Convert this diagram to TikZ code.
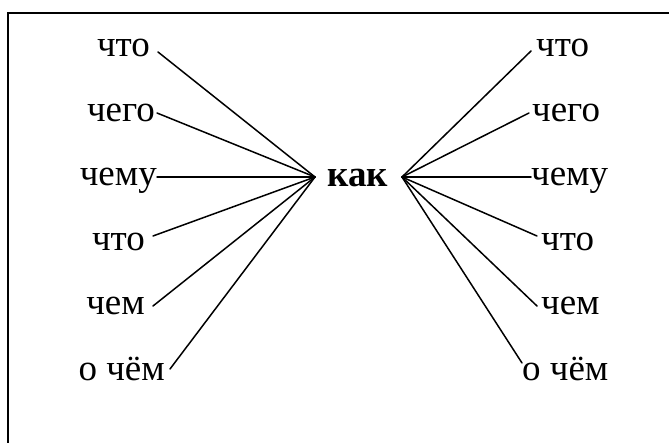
\documentclass[tikz,border=0pt]{standalone}
\usepackage{fontspec}
\setmainfont{Liberation Serif}
\begin{document}
\begin{tikzpicture}[x=1pt,y=-1pt,
  word/.style={inner sep=0pt,font=\fontsize{37}{40}\selectfont},
  link/.style={line width=1.5pt,line cap=round}]
\useasboundingbox (0,0) rectangle (669,443);
\draw[line width=2pt] (8,450) -- (8,13) -- (680,13);
% hub
\node[word,font=\fontsize{37}{40}\selectfont\bfseries,anchor=base] (kak) at (358,187) {как};
\coordinate (hl) at (315,177);
\coordinate (hr) at (402,177);
% left words
\node[word,anchor=base east] (l1) at (150,57) {что};
\node[word,anchor=base east] (l2) at (155,122) {чего};
\node[word,anchor=base east] (l3) at (157,186) {чему};
\node[word,anchor=base east] (l4) at (145,251) {что};
\node[word,anchor=base east] (l5) at (145,315) {чем};
\node[word,anchor=base east] (l6) at (165,380) {о чём};
% right words
\node[word,anchor=base west] (r1) at (536,57) {что};
\node[word,anchor=base west] (r2) at (532,122) {чего};
\node[word,anchor=base west] (r3) at (531,186) {чему};
\node[word,anchor=base west] (r4) at (541,251) {что};
\node[word,anchor=base west] (r5) at (541,315) {чем};
\node[word,anchor=base west] (r6) at (522,380) {о чём};
% connectors left
\draw[link] ([xshift=8,yshift=5]l1.base east) -- (hl);
\draw[link] ([xshift=2,yshift=9]l2.base east) -- (hl);
\draw[link] ([xshift=0,yshift=9]l3.base east) -- (hl);
\draw[link] ([xshift=8,yshift=15]l4.base east) -- (hl);
\draw[link] ([xshift=8,yshift=9]l5.base east) -- (hl);
\draw[link] ([xshift=5,yshift=11]l6.base east) -- (hl);
% connectors right
\draw[link] (hr) -- ([xshift=-5,yshift=6]r1.base west);
\draw[link] (hr) -- ([xshift=-3,yshift=9]r2.base west);
\draw[link] (hr) -- ([xshift=0,yshift=9]r3.base west);
\draw[link] (hr) -- ([xshift=-4,yshift=15]r4.base west);
\draw[link] (hr) -- ([xshift=-4,yshift=9]r5.base west);
\draw[link] (hr) -- ([xshift=0,yshift=17]r6.base west);
\end{tikzpicture}
\end{document}
